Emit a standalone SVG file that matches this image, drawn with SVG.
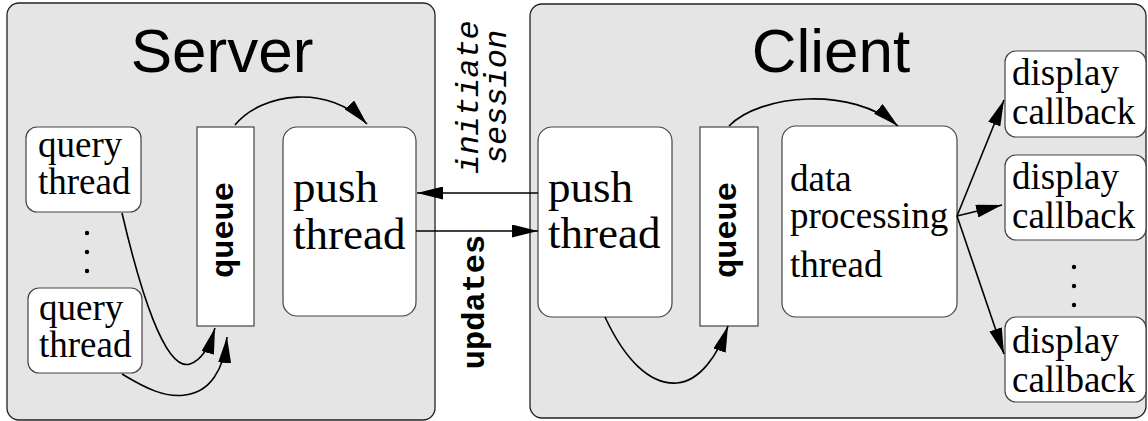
<svg xmlns="http://www.w3.org/2000/svg" width="1148" height="421" viewBox="0 0 1148 421">
  <defs>
    <marker id="arrow" markerUnits="userSpaceOnUse" markerWidth="26" markerHeight="13" refX="26" refY="6.5" orient="auto">
      <path d="M0,0 L26,6.5 L0,13 z" fill="#000"/>
    </marker>
    <style>
      .panel { fill: #e5e5e5; stroke: #222; stroke-width: 1.3; }
      .box { fill: #fff; stroke: #444; stroke-width: 1.2; }
      .title { font-family: "Liberation Sans", Arial, sans-serif; font-size: 62px; fill: #000; text-anchor: middle; }
      .lbl { font-family: "Liberation Serif", "Times New Roman", serif; font-size: 37px; fill: #000; }
      .big { font-family: "Liberation Serif", "Times New Roman", serif; font-size: 45px; fill: #000; }
      .mono { font-family: "Liberation Mono", "Courier New", monospace; font-size: 32px; fill: #000; text-anchor: middle; }
      .bold { font-weight: bold; }
      .ital { font-style: italic; }
      .conn { fill: none; stroke: #000; stroke-width: 1.6; marker-end: url(#arrow); }
      .dot { fill: #000; }
    </style>
  </defs>

  <!-- containers -->
  <g id="server">
    <rect class="panel" x="7" y="3" width="428" height="417" rx="12"/>
    <text class="title" x="222" y="72">Server</text>
  </g>
  <g id="client">
    <rect class="panel" x="530" y="4" width="616" height="414" rx="12"/>
    <text class="title" x="831" y="72">Client</text>
  </g>

  <!-- server side nodes -->
  <g id="query-thread-1">
    <rect class="box" x="26" y="127" width="115" height="85" rx="11"/>
    <text class="lbl" x="38" y="157">query</text>
    <text class="lbl" x="38" y="194">thread</text>
  </g>
  <g id="query-dots">
    <circle class="dot" cx="87" cy="233" r="2.2"/>
    <circle class="dot" cx="87" cy="252" r="2.2"/>
    <circle class="dot" cx="87" cy="271" r="2.2"/>
  </g>
  <g id="query-thread-2">
    <rect class="box" x="28" y="288" width="114" height="85" rx="11"/>
    <text class="lbl" x="39" y="320">query</text>
    <text class="lbl" x="39" y="357">thread</text>
  </g>
  <g id="server-queue">
    <rect class="box" x="197" y="127" width="57" height="199"/>
    <text class="mono bold" transform="translate(233,230) rotate(-90)">queue</text>
  </g>
  <g id="server-push-thread">
    <rect class="box" x="283" y="127" width="133" height="189" rx="14"/>
    <text class="big" x="293" y="202">push</text>
    <text class="big" x="293" y="249">thread</text>
  </g>

  <!-- client side nodes -->
  <g id="client-push-thread">
    <rect class="box" x="538" y="127" width="134" height="190" rx="14"/>
    <text class="big" x="548" y="202">push</text>
    <text class="big" x="548" y="248">thread</text>
  </g>
  <g id="client-queue">
    <rect class="box" x="700" y="127" width="58" height="199"/>
    <text class="mono bold" transform="translate(736,230) rotate(-90)">queue</text>
  </g>
  <g id="data-processing-thread">
    <rect class="box" x="782" y="126" width="175" height="191" rx="14"/>
    <text class="lbl" x="790" y="191">data</text>
    <text class="lbl" x="790" y="228">processing</text>
    <text class="lbl" x="790" y="277">thread</text>
  </g>
  <g id="display-callback-1">
    <rect class="box" x="1005" y="51" width="141" height="86" rx="11"/>
    <text class="lbl" x="1012" y="85">display</text>
    <text class="lbl" x="1012" y="124">callback</text>
  </g>
  <g id="display-callback-2">
    <rect class="box" x="1005" y="155" width="141" height="85" rx="11"/>
    <text class="lbl" x="1012" y="189">display</text>
    <text class="lbl" x="1012" y="228">callback</text>
  </g>
  <g id="callback-dots">
    <circle class="dot" cx="1074" cy="267" r="2.2"/>
    <circle class="dot" cx="1074" cy="286" r="2.2"/>
    <circle class="dot" cx="1074" cy="305" r="2.2"/>
  </g>
  <g id="display-callback-3">
    <rect class="box" x="1005" y="317" width="141" height="85" rx="11"/>
    <text class="lbl" x="1012" y="353">display</text>
    <text class="lbl" x="1012" y="392">callback</text>
  </g>

  <!-- connectors -->
  <g id="connectors">
    <path class="conn" d="M122,213 C140,290 165,372 190,364 C202,360 210,345 215,328"/>
    <path class="conn" d="M122,374 C145,388 165,398 185,395 C210,392 224,370 227,337"/>
    <path class="conn" d="M235,125 C262,92 330,84 367,124"/>
    <path class="conn" d="M538,193 L417,193"/>
    <path class="conn" d="M416,231 L538,231"/>
    <path class="conn" d="M605,317 C625,360 650,385 677,383 C700,381 718,355 728,326"/>
    <path class="conn" d="M729,126 C760,94 852,86 898,126"/>
    <path class="conn" d="M957,216 L1004,100"/>
    <path class="conn" d="M957,216 L1002,205"/>
    <path class="conn" d="M957,216 L1004,354"/>
  </g>

  <!-- connector labels -->
  <g id="connector-labels">
    <text class="mono ital" transform="translate(478,97) rotate(-90)">initiate</text>
    <text class="mono ital" transform="translate(506,97) rotate(-90)">session</text>
    <text class="mono bold" transform="translate(484,302) rotate(-90)">updates</text>
  </g>
</svg>
